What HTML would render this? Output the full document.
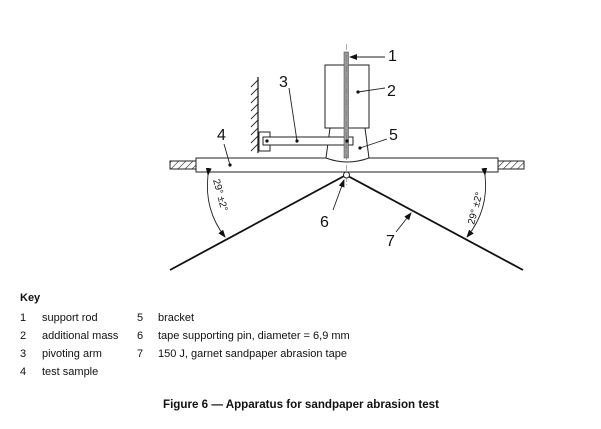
<!DOCTYPE html>
<html><head><meta charset="utf-8"><style>
body{margin:0;background:#fff;width:601px;height:429px;overflow:hidden;position:relative;font-family:"Liberation Sans",Arial,sans-serif;color:#111}
.t{position:absolute;font-size:11px;line-height:12px;white-space:nowrap}
</style></head><body>
<svg width="601" height="429" style="position:absolute;left:0;top:0" xmlns="http://www.w3.org/2000/svg">
<defs>
<pattern id="h" width="5" height="5" patternUnits="userSpaceOnUse" patternTransform="rotate(45)"><line x1="0" y1="0" x2="0" y2="5" stroke="#222" stroke-width="1.2"/></pattern>
<marker id="a" markerWidth="8" markerHeight="6" refX="7" refY="3" orient="auto" markerUnits="userSpaceOnUse"><path d="M0,0 L8,3 L0,6 z" fill="#111"/></marker>
</defs>
<g stroke="#222" stroke-width="1" fill="none">
<rect x="170" y="161" width="26" height="8" fill="url(#h)"/>
<rect x="498" y="161" width="26" height="8" fill="url(#h)"/>
<rect x="196" y="158" width="302" height="14" fill="#fff"/>
<line x1="258" y1="77" x2="258" y2="153" stroke-width="1.3"/>
<g stroke-width="0.9">
<line x1="258" y1="80" x2="251" y2="87"/><line x1="258" y1="88" x2="251" y2="95"/><line x1="258" y1="96" x2="251" y2="103"/><line x1="258" y1="104" x2="251" y2="111"/><line x1="258" y1="112" x2="251" y2="119"/><line x1="258" y1="120" x2="251" y2="127"/><line x1="258" y1="128" x2="251" y2="135"/><line x1="258" y1="136" x2="251" y2="143"/><line x1="258" y1="144" x2="251" y2="151"/>
</g>
<rect x="259" y="132" width="11" height="19" fill="#fff"/>
<path d="M330,128 L365,128 L369,158 Q347,166 326,158 Z" fill="#fff"/>
<rect x="325" y="65" width="44" height="63" fill="#fff"/>
<rect x="263" y="137" width="90" height="8" fill="#fff"/>
<rect x="344" y="52" width="4.5" height="106" fill="#999" stroke="#555" stroke-width="0.6"/>
<line x1="346.5" y1="44" x2="346.5" y2="185" stroke="#777" stroke-width="0.6" stroke-dasharray="6,2,1,2"/>
<polyline points="170,270 346,175 523,270" stroke="#111" stroke-width="1.8"/>
<circle cx="346.5" cy="175" r="3" fill="#fff" stroke-width="1"/>
<path d="M208,175 Q204,210 225,237" stroke-width="0.9" marker-start="url(#a)" marker-end="url(#a)"/>
<path d="M485,175 Q489,210 467,237" stroke-width="0.9" marker-start="url(#a)" marker-end="url(#a)"/>
<line x1="385" y1="57" x2="350" y2="57" stroke-width="0.9" marker-end="url(#a)"/>
<line x1="385" y1="88" x2="358" y2="92" stroke-width="0.9"/>
<line x1="289" y1="88" x2="297" y2="141" stroke-width="0.9"/>
<line x1="224" y1="144" x2="230" y2="165" stroke-width="0.9"/>
<line x1="387" y1="139" x2="360" y2="148" stroke-width="0.9"/>
<line x1="333" y1="210" x2="344" y2="180" stroke-width="0.9" marker-end="url(#a)"/>
<line x1="396" y1="232" x2="411" y2="213" stroke-width="0.9" marker-end="url(#a)"/>
</g>
<g fill="#111">
<circle cx="358" cy="92" r="1.6"/><circle cx="297" cy="141" r="1.6"/><circle cx="267" cy="141" r="1.6"/><circle cx="347" cy="141" r="1.6"/><circle cx="230" cy="165" r="1.6"/><circle cx="360" cy="148" r="1.6"/>
</g>
<g font-family="Liberation Sans, Arial, sans-serif" font-size="16" fill="#111">
<text x="388" y="61">1</text><text x="387" y="96">2</text><text x="279" y="87">3</text><text x="217" y="140">4</text><text x="389" y="140">5</text><text x="320" y="227">6</text><text x="386" y="246">7</text>
</g>
<g font-family="Liberation Sans, Arial, sans-serif" font-size="10" fill="#111">
<text transform="translate(213,180) rotate(75)">29° ±2°</text>
<text transform="translate(474,225) rotate(-75)">29° ±2°</text>
</g>
</svg>
<div class="t" style="left:20px;top:292px;font-weight:bold">Key</div>
<div class="t" style="left:20px;top:312px">1</div><div class="t" style="left:42px;top:312px">support rod</div>
<div class="t" style="left:20px;top:330px">2</div><div class="t" style="left:42px;top:330px">additional mass</div>
<div class="t" style="left:20px;top:348px">3</div><div class="t" style="left:42px;top:348px">pivoting arm</div>
<div class="t" style="left:20px;top:366px">4</div><div class="t" style="left:42px;top:366px">test sample</div>
<div class="t" style="left:137px;top:312px">5</div><div class="t" style="left:158px;top:312px">bracket</div>
<div class="t" style="left:137px;top:330px">6</div><div class="t" style="left:158px;top:330px">tape supporting pin, diameter = 6,9 mm</div>
<div class="t" style="left:137px;top:348px">7</div><div class="t" style="left:158px;top:348px">150 J, garnet sandpaper abrasion tape</div>
<div class="t" style="left:163px;top:398px;font-weight:bold;font-size:11.6px;line-height:14px">Figure 6 — Apparatus for sandpaper abrasion test</div>
</body></html>
